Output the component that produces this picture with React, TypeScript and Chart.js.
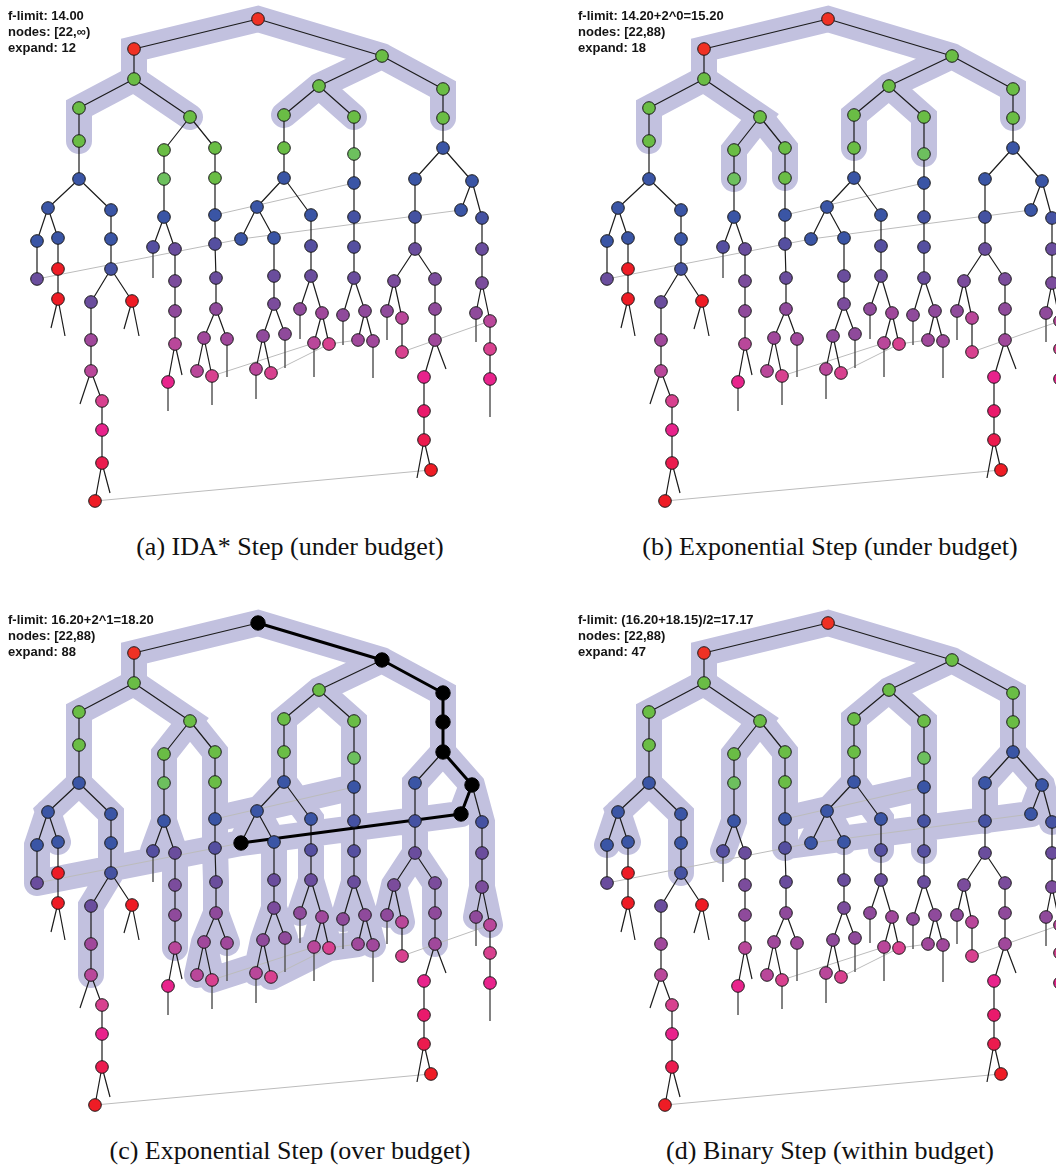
import React, { useEffect, useRef } from 'react';
import { Chart, registerables } from 'chart.js';
Chart.register(...registerables);

// [id, parent, x, y, tone]
type NodeRow = [string, string | null, number, number, string];

const NODES_LEFT: NodeRow[] = [
  ['root', null, 258, 19, 'r0'],
  ['A', 'root', 134, 49, 'r0'],
  ['B', 'A', 134, 79, 'g'],
  ['C', 'B', 79, 108, 'g'],
  ['D', 'C', 79, 141, 'g'],
  ['E', 'B', 190, 117, 'g'],
  ['F', 'E', 164, 150, 'g'],
  ['G', 'E', 215, 148, 'g'],
  ['H', 'F', 164, 179, 'g2'],
  ['I', 'G', 215, 178, 'g'],
  ['J', 'D', 79, 179, 'b'],
  ['K', 'J', 48, 208, 'b'],
  ['L', 'J', 111, 210, 'b'],
  ['M', 'K', 37, 241, 'b'],
  ['N', 'K', 58, 238, 'b'],
  ['O', 'L', 111, 239, 'b'],
  ['P', 'H', 164, 217, 'b'],
  ['Q', 'P', 153, 247, 'b3'],
  ['R', 'P', 175, 249, 'p1'],
  ['S', 'I', 215, 215, 'b'],
  ['T', 'S', 215, 244, 'b3'],
  ['M1', 'M', 37, 279, 'p1'],
  ['N1', 'N', 58, 269, 'r'],
  ['N2', 'N1', 58, 299, 'r'],
  ['U', 'O', 111, 269, 'b2'],
  ['V', 'U', 91, 302, 'p1'],
  ['W', 'U', 132, 301, 'r'],
  ['V1', 'V', 91, 340, 'p4'],
  ['V2', 'V1', 91, 371, 'p5'],
  ['V3', 'V2', 102, 401, 'k1'],
  ['V4', 'V3', 102, 430, 'k2'],
  ['V5', 'V4', 102, 463, 'c1'],
  ['V6', 'V5', 95, 501, 'r'],
  ['R1', 'R', 175, 281, 'p2'],
  ['R2', 'R1', 175, 311, 'p3'],
  ['R3', 'R2', 175, 344, 'p5'],
  ['R4', 'R3', 168, 382, 'k2'],
  ['T1', 'T', 216, 278, 'p1'],
  ['T2', 'T1', 216, 309, 'p3'],
  ['T3', 'T2', 204, 338, 'p4'],
  ['T4', 'T2', 227, 339, 'p4'],
  ['T5', 'T3', 197, 371, 'p5'],
  ['T6', 'T3', 212, 376, 'k1'],
];

const NODES_RIGHT: NodeRow[] = [
  ['X1', 'root', 382, 56, 'g'],
  ['X2', 'X1', 319, 86, 'g'],
  ['X3', 'X2', 284, 115, 'g'],
  ['X4', 'X2', 354, 117, 'g'],
  ['X5', 'X1', 443, 89, 'g'],
  ['X6', 'X5', 443, 118, 'g'],
  ['X7', 'X3', 284, 148, 'g'],
  ['X8', 'X7', 284, 178, 'b'],
  ['X9', 'X8', 257, 207, 'b'],
  ['X10', 'X8', 311, 215, 'b'],
  ['X11', 'X9', 241, 239, 'b'],
  ['X12', 'X9', 274, 238, 'b'],
  ['X13', 'X10', 311, 246, 'b3'],
  ['X14', 'X4', 354, 154, 'g2'],
  ['X15', 'X14', 354, 183, 'b'],
  ['X16', 'X15', 354, 217, 'b2'],
  ['X17', 'X16', 354, 247, 'b3'],
  ['X18', 'X6', 443, 148, 'b'],
  ['X19', 'X18', 415, 179, 'b'],
  ['X20', 'X18', 472, 181, 'b'],
  ['X21', 'X19', 415, 217, 'b2'],
  ['X22', 'X21', 415, 249, 'p1'],
  ['X23', 'X20', 461, 210, 'b'],
  ['X24', 'X20', 482, 218, 'b2'],
  ['X25', 'X24', 482, 249, 'p1'],
  ['X12a', 'X12', 274, 276, 'p1'],
  ['X12b', 'X12a', 274, 304, 'p2'],
  ['X12c', 'X12b', 263, 336, 'p3'],
  ['X12d', 'X12b', 285, 334, 'p3'],
  ['X12e', 'X12c', 256, 369, 'p5'],
  ['X12f', 'X12c', 271, 373, 'k1'],
  ['X13a', 'X13', 311, 276, 'p1'],
  ['X13b', 'X13a', 300, 309, 'p3'],
  ['X13c', 'X13a', 322, 313, 'p4'],
  ['X13d', 'X13c', 314, 343, 'p5'],
  ['X13e', 'X13c', 329, 344, 'k1'],
  ['X17a', 'X17', 354, 278, 'p1'],
  ['X17b', 'X17a', 343, 315, 'p3'],
  ['X17c', 'X17a', 365, 311, 'p3'],
  ['X17d', 'X17c', 358, 340, 'p4'],
  ['X17e', 'X17c', 373, 341, 'p4'],
  ['X22a', 'X22', 394, 281, 'p2'],
  ['X22b', 'X22', 435, 279, 'p2'],
  ['X22c', 'X22a', 387, 311, 'p3'],
  ['X22d', 'X22a', 402, 318, 'p5'],
  ['X22e', 'X22d', 402, 352, 'k1'],
  ['X22f', 'X22b', 435, 309, 'p3'],
  ['X22g', 'X22f', 435, 340, 'p4'],
  ['X22h', 'X22g', 424, 377, 'k2'],
  ['X22i', 'X22h', 424, 411, 'c0'],
  ['X22j', 'X22i', 424, 440, 'c1'],
  ['X22k', 'X22j', 431, 470, 'r'],
  ['X25a', 'X25', 482, 283, 'p2'],
  ['X25b', 'X25a', 476, 313, 'p3'],
  ['X25c', 'X25a', 490, 321, 'p5'],
  ['X25d', 'X25c', 490, 349, 'k1'],
  ['X25e', 'X25d', 490, 379, 'k2'],
];

// unexpanded child stubs: [from node, end x, end y]
const STUBS: [string, number, number][] = [
  ['N2', 51, 328], ['N2', 65, 336], ['W', 124, 329], ['W', 139, 336],
  ['V2', 80, 404], ['V5', 110, 493], ['Q', 153, 278], ['R3', 182, 375],
  ['R4', 168, 411], ['T6', 212, 405], ['T4', 227, 377], ['X12e', 256, 399],
  ['X12d', 285, 368], ['X13b', 300, 339], ['X13d', 314, 377], ['X17b', 343, 345],
  ['X17e', 373, 378], ['X22c', 387, 340], ['X22g', 446, 369], ['X22j', 417, 478],
  ['X25b', 476, 342], ['X25e', 490, 417],
];

// transposition links (thin grey)
const CROSS_LINKS: [string, string][] = [
  ['M1', 'X11'], ['X11', 'X23'], ['S', 'X15'], ['T6', 'X13d'],
  ['X12f', 'X13e'], ['X13e', 'X17d'], ['X22e', 'X25c'], ['V6', 'X22k'],
];

const HIGHLIGHT_A: string[][] = [
  ['D', 'C', 'B', 'A', 'root', 'X1', 'X5', 'X6'],
  ['B', 'E'], ['X1', 'X2', 'X3'], ['X2', 'X4'],
];

const HIGHLIGHT_B: string[][] = [
  ['D', 'C', 'B', 'A', 'root', 'X1', 'X5', 'X6'],
  ['B', 'E', 'F', 'H'], ['E', 'G', 'I'],
  ['X1', 'X2', 'X3', 'X7'], ['X2', 'X4', 'X14'],
];

const HIGHLIGHT_C: string[][] = [
  ['D', 'C', 'B', 'A', 'root', 'X1', 'X5', 'X6', 'X18', 'X20', 'X24', 'X25', 'X25a', 'X25c'],
  ['X25a', 'X25b'],
  ['N', 'K', 'J', 'D'], ['K', 'M', 'M1'], ['M1', 'X11', 'X23'],
  ['J', 'L', 'O', 'U', 'V', 'V1', 'V2'],
  ['B', 'E', 'F', 'H', 'P', 'Q'], ['P', 'R', 'R1', 'R2', 'R3'],
  ['E', 'G', 'I', 'S', 'T', 'T1', 'T2', 'T3', 'T5'], ['T2', 'T4'], ['T3', 'T6'], ['T6', 'X13d'],
  ['S', 'X15'],
  ['X1', 'X2', 'X3', 'X7', 'X8', 'X9', 'X11'],
  ['X9', 'X12', 'X12a', 'X12b', 'X12c', 'X12e'], ['X12b', 'X12d'], ['X12c', 'X12f'],
  ['X12f', 'X13e', 'X17d'],
  ['X8', 'X10', 'X13', 'X13a', 'X13b'], ['X13a', 'X13c', 'X13d'], ['X13c', 'X13e'],
  ['X2', 'X4', 'X14', 'X15', 'X16', 'X17', 'X17a', 'X17b'], ['X17a', 'X17c', 'X17d'], ['X17c', 'X17e'],
  ['X18', 'X19', 'X21', 'X22', 'X22a', 'X22c'], ['X22a', 'X22d'], ['X22', 'X22b', 'X22f', 'X22g'],
  ['X20', 'X23'],
];

const HIGHLIGHT_D: string[][] = [
  ['D', 'C', 'B', 'A', 'root', 'X1', 'X5', 'X6', 'X18', 'X20', 'X24'],
  ['N', 'K', 'J', 'D'], ['K', 'M'], ['J', 'L', 'O', 'U'],
  ['B', 'E', 'F', 'H', 'P', 'Q'], ['E', 'G', 'I', 'S', 'T'], ['S', 'X15'],
  ['X1', 'X2', 'X3', 'X7', 'X8', 'X9', 'X11', 'X23'], ['X9', 'X12'], ['X8', 'X10', 'X13'],
  ['X2', 'X4', 'X14', 'X15', 'X16', 'X17'], ['X18', 'X19', 'X21'], ['X20', 'X23'],
];

const BLACK_PATH_C: string[] = ['root', 'X1', 'X5', 'X6', 'X18', 'X20', 'X23', 'X11'];

const LABELS_A = ['f-limit: 14.00', 'nodes: [22,\u221E)', 'expand: 12'];
const LABELS_B = ['f-limit: 14.20+2^0=15.20', 'nodes: [22,88)', 'expand: 18'];
const LABELS_C = ['f-limit: 16.20+2^1=18.20', 'nodes: [22,88)', 'expand: 88'];
const LABELS_D = ['f-limit: (16.20+18.15)/2=17.17', 'nodes: [22,88)', 'expand: 47'];

const CAPTIONS = [
  '(a) IDA* Step (under budget)',
  '(b) Exponential Step (under budget)',
  '(c) Exponential Step (over budget)',
  '(d) Binary Step (within budget)',
];

const TONES: Record<string, string> = {
  r0: '#ef3124', g: '#6abd45', g2: '#6dc05e', b: '#3a55a5', b2: '#4552a2', b3: '#554fa0',
  p1: '#6a4d9d', p2: '#7b4c9c', p3: '#8f4a9b', p4: '#a0489b', p5: '#b9479a',
  k1: '#d8418f', k2: '#e8238c', c0: '#ea1a6c', c1: '#eb1b4e', r: '#ee1c25',
};

const BAND = '#c2c1df';

const ALL_NODES = [...NODES_LEFT, ...NODES_RIGHT];
const NODE_MAP = new Map(ALL_NODES.map((n) => [n[0], n]));

function pt(id: string) {
  const n = NODE_MAP.get(id)!;
  return { x: n[2], y: n[3] };
}
const GAP = { x: null as any, y: null as any };

function chainPoints(chains: string[][]) {
  const out: any[] = [];
  chains.forEach((c, i) => {
    if (i) out.push(GAP);
    c.forEach((id) => out.push(pt(id)));
  });
  return out;
}

function segPoints(segs: { x: number; y: number }[][]) {
  const out: any[] = [];
  segs.forEach((s, i) => {
    if (i) out.push(GAP);
    s.forEach((p) => out.push(p));
  });
  return out;
}

type PanelSpec = {
  left: number; top: number; width: number; height: number; capCenter: number;
  labels: string[]; caption: string; chains: string[][]; black: string[];
};

const PANELS: PanelSpec[] = [
  { left: 0, top: 0, width: 530, height: 520, capCenter: 290, labels: LABELS_A, caption: CAPTIONS[0], chains: HIGHLIGHT_A, black: [] },
  { left: 570, top: 0, width: 486, height: 520, capCenter: 830, labels: LABELS_B, caption: CAPTIONS[1], chains: HIGHLIGHT_B, black: [] },
  { left: 0, top: 604, width: 530, height: 520, capCenter: 290, labels: LABELS_C, caption: CAPTIONS[2], chains: HIGHLIGHT_C, black: BLACK_PATH_C },
  { left: 570, top: 604, width: 486, height: 520, capCenter: 830, labels: LABELS_D, caption: CAPTIONS[3], chains: HIGHLIGHT_D, black: [] },
];

function lineDs(data: any[], color: string, width: number, order: number, cap = 'butt', join = 'miter') {
  return {
    data, showLine: true, borderColor: color, borderWidth: width, pointRadius: 0,
    pointHoverRadius: 0, borderCapStyle: cap, borderJoinStyle: join, spanGaps: false,
    tension: 0, fill: false, order, clip: false,
  };
}

function buildDatasets(spec: PanelSpec) {
  const datasets: any[] = [];
  datasets.push(lineDs(chainPoints(spec.chains), BAND, 26, 6, 'round', 'miter'));
  datasets.push(lineDs(chainPoints(CROSS_LINKS.map((l) => [...l])), '#bcbcbc', 1, 5));
  const treeSegs = ALL_NODES.filter((n) => n[1]).map((n) => [pt(n[1] as string), pt(n[0])]);
  datasets.push(lineDs(segPoints(treeSegs), '#1c1c1c', 1.2, 4));
  const angled = STUBS.filter((s) => pt(s[0]).x !== s[1]).map((s) => [pt(s[0]), { x: s[1], y: s[2] }]);
  const vertical = STUBS.filter((s) => pt(s[0]).x === s[1]).map((s) => [pt(s[0]), { x: s[1], y: s[2] }]);
  datasets.push(lineDs(segPoints(angled), '#1c1c1c', 1.2, 4));
  datasets.push(lineDs(segPoints(vertical), '#5a5a5a', 1.5, 4));
  const blackSet = new Set(spec.black);
  if (spec.black.length) {
    datasets.push(lineDs(chainPoints([spec.black]), '#000000', 3, 2, 'round', 'round'));
  }
  const plain = ALL_NODES.filter((n) => !blackSet.has(n[0]));
  datasets.push({
    data: plain.map((n) => ({ x: n[2], y: n[3] })),
    showLine: false,
    pointRadius: 6.3,
    pointHoverRadius: 6.3,
    pointBorderWidth: 1,
    pointBorderColor: '#1a1a1a',
    pointBackgroundColor: plain.map((n) => TONES[n[4]]),
    order: 1,
    clip: false,
  });
  if (spec.black.length) {
    const bl = ALL_NODES.filter((n) => blackSet.has(n[0]));
    datasets.push({
      data: bl.map((n) => ({ x: n[2], y: n[3] })),
      showLine: false,
      pointRadius: 7.2,
      pointHoverRadius: 7.2,
      pointBorderWidth: 1,
      pointBorderColor: '#000',
      pointBackgroundColor: '#000',
      order: 0,
      clip: false,
    });
  }
  return datasets;
}

function Panel({ spec }: { spec: PanelSpec }) {
  const ref = useRef<HTMLCanvasElement>(null);
  useEffect(() => {
    const chart = new Chart(ref.current as HTMLCanvasElement, {
      type: 'scatter',
      data: { datasets: buildDatasets(spec) },
      options: {
        animation: false,
        responsive: false,
        devicePixelRatio: 1,
        events: [],
        layout: { padding: 0, autoPadding: false },
        scales: {
          x: { type: 'linear', min: 0, max: spec.width, display: false },
          y: { type: 'linear', min: 0, max: spec.height, reverse: true, display: false },
        },
        plugins: { legend: { display: false }, tooltip: { enabled: false } },
      } as any,
    });
    return () => chart.destroy();
  }, [spec]);
  return (
    <>
      <canvas
        ref={ref}
        width={spec.width}
        height={spec.height}
        style={{ position: 'absolute', left: spec.left, top: spec.top, width: spec.width, height: spec.height }}
      />
      <div
        style={{
          position: 'absolute', left: spec.left + 8, top: spec.top + 8,
          font: 'bold 13px "Liberation Sans", Arial, Helvetica, sans-serif', lineHeight: '16px',
          color: '#141414', whiteSpace: 'nowrap',
        }}
      >
        {spec.labels.map((l) => (<div key={l}>{l}</div>))}
      </div>
      <div
        style={{
          position: 'absolute', left: spec.capCenter - 260, top: spec.top + 532, width: 520, textAlign: 'center',
          font: '26px "Liberation Serif", "Times New Roman", serif', lineHeight: '30px', color: '#111',
          whiteSpace: 'nowrap',
        }}
      >
        {spec.caption}
      </div>
    </>
  );
}

export default function App() {
  return (
    <div style={{ position: 'relative', width: 1056, height: 1171, background: '#fff', overflow: 'hidden' }}>
      <style>{'body{margin:0;}'}</style>
      {PANELS.map((p, i) => (<Panel key={i} spec={p} />))}
    </div>
  );
}
